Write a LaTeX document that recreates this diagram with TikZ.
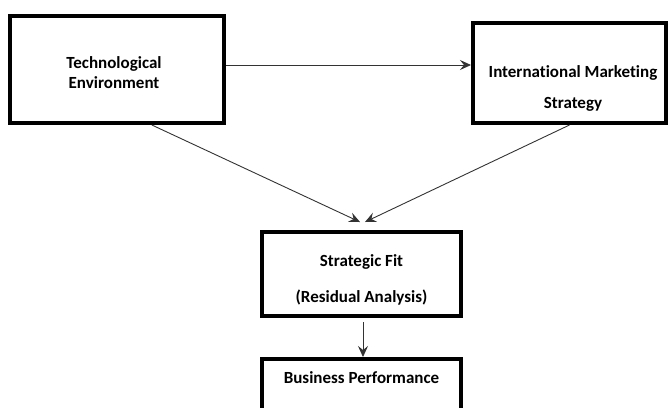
\documentclass[tikz,border=0pt]{standalone}
\usepackage{fontspec}
\setmainfont{Carlito}[Ligatures=NoCommon]
\usetikzlibrary{arrows.meta,calc}
\begin{document}
\begin{tikzpicture}[x=1bp,y=-1bp,
  box/.style={draw=black,line width=4bp,rectangle,inner sep=0pt,fill=white},
  btext/.style={font=\fontsize{17bp}{20bp}\selectfont\bfseries,align=center,inner sep=0pt,text=black},
  arr/.style={draw=black!80,line width=0.9bp,-{Stealth[length=11bp,width=10bp,inset=4bp]}}]
\clip (0,0) rectangle (671,407);
\useasboundingbox (0,0) rectangle (671,407);
% boxes
\node[box,minimum width=214bp,minimum height=107bp] (b1) at (117,69.5) {};
\node[box,minimum width=193bp,minimum height=100bp] (b2) at (569.5,73) {};
\node[box,minimum width=199bp,minimum height=84bp] (b3) at (361.5,274) {};
\node[box,minimum width=199bp,minimum height=90bp] (b4) at (361.5,404) {};
% texts
\node[btext] (t1) at (114,73) {Technological\\Environment};
\node[btext] (t2) at (573,88.5) {International Marketing\\[11bp]Strategy};
\node[btext] (t3) at (361.5,280) {Strategic Fit\\[16bp](Residual Analysis)};
\node[btext] (t4) at (361.5,378) {Business Performance};
% connectors
\coordinate (h) at (0,65);
\coordinate (m1) at (360,222);
\coordinate (m2) at (365,222);
\draw[arr] (b1.east |- h) -- (b2.west |- h);
\draw[arr] ($(b1.south west)!0.66!(b1.south east)$) -- (m1);
\draw[arr] (b2.south) -- (m2);
\draw[arr] ($(b3.south)+(1.5,4)$) -- ($(b4.north)+(1.5,0)$);
\end{tikzpicture}
\end{document}
